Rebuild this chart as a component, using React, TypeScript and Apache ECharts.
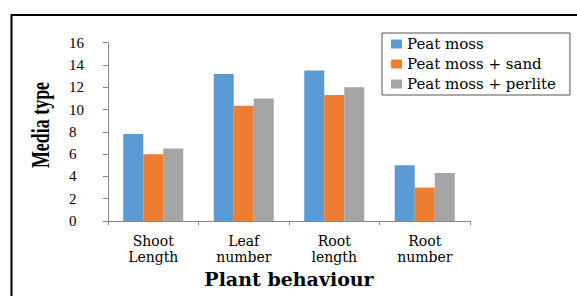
import React, { useEffect, useRef } from "react";
import * as echarts from "echarts";

const categories = ["Shoot\nLength", "Leaf\nnumber", "Root\nlength", "Root\nnumber"];
const peatMoss = [7.8, 13.2, 13.5, 5.0];
const peatMossSand = [6.0, 10.35, 11.3, 3.0];
const peatMossPerlite = [6.5, 11.0, 12.0, 4.3];
const seriesNames = ["Peat moss", "Peat moss + sand", "Peat moss + perlite"];
const colors = ["#5B9BD5", "#ED7D31", "#A5A5A5"];

export default function App() {
  const ref = useRef<HTMLDivElement>(null);
  useEffect(() => {
    if (!ref.current) return;
    const chart = echarts.init(ref.current, null, { renderer: "svg" });
    const values = [peatMoss, peatMossSand, peatMossPerlite];
    chart.setOption({
      animation: false,
      backgroundColor: "#ffffff",
      color: colors,
      grid: { left: 108, right: 107, top: 42.7, bottom: 75 },
      legend: {
        orient: "vertical",
        left: 382,
        top: 33,
        icon: "rect",
        itemWidth: 11,
        itemHeight: 9,
        itemGap: 4,
        padding: [3, 14, 3, 9],
        borderColor: "#555555",
        borderWidth: 1,
        textStyle: { fontFamily: "DejaVu Serif", fontSize: 15, lineHeight: 16, color: "#000" },
        data: seriesNames,
      },
      xAxis: {
        type: "category",
        data: categories,
        name: "Plant behaviour",
        nameLocation: "middle",
        nameGap: 43,
        nameTextStyle: { fontFamily: "DejaVu Serif", fontWeight: "bold", fontSize: 19, color: "#000" },
        axisLine: { lineStyle: { color: "#888888" } },
        axisTick: { show: true, length: 4, lineStyle: { color: "#888888" } },
        axisLabel: { fontFamily: "DejaVu Serif", fontSize: 14, lineHeight: 16, margin: 12, color: "#000" },
      },
      yAxis: {
        type: "value",
        min: 0,
        max: 16,
        interval: 2,
        axisLine: { show: true, lineStyle: { color: "#888888" } },
        axisTick: { show: true, length: 5, lineStyle: { color: "#888888" } },
        splitLine: { show: false },
        axisLabel: { align: "left", margin: 39, fontFamily: "Liberation Serif", fontSize: 15, color: "#000" },
      },
      series: values.map((v, i) => ({
        name: seriesNames[i],
        type: "bar",
        data: v,
        barWidth: 20,
        barGap: "0%",
        itemStyle: { color: colors[i] },
      })),
      graphic: [
        {
          type: "rect",
          shape: { x: 11.5, y: 15, width: 600, height: 320 },
          style: { fill: "none", stroke: "#000", lineWidth: 2 },
          silent: true,
        },
        {
          type: "text",
          x: 40,
          y: 125,
          rotation: Math.PI / 2,
          scaleX: 0.69,
          style: {
            text: "Media type",
            font: "bold 26px 'Liberation Serif'",
            fill: "#000",
            align: "center",
            verticalAlign: "middle",
          },
        },
      ],
    });
    return () => chart.dispose();
  }, []);
  return <div ref={ref} style={{ position: "fixed", left: 0, top: 0, width: 577, height: 296 }} />;
}
